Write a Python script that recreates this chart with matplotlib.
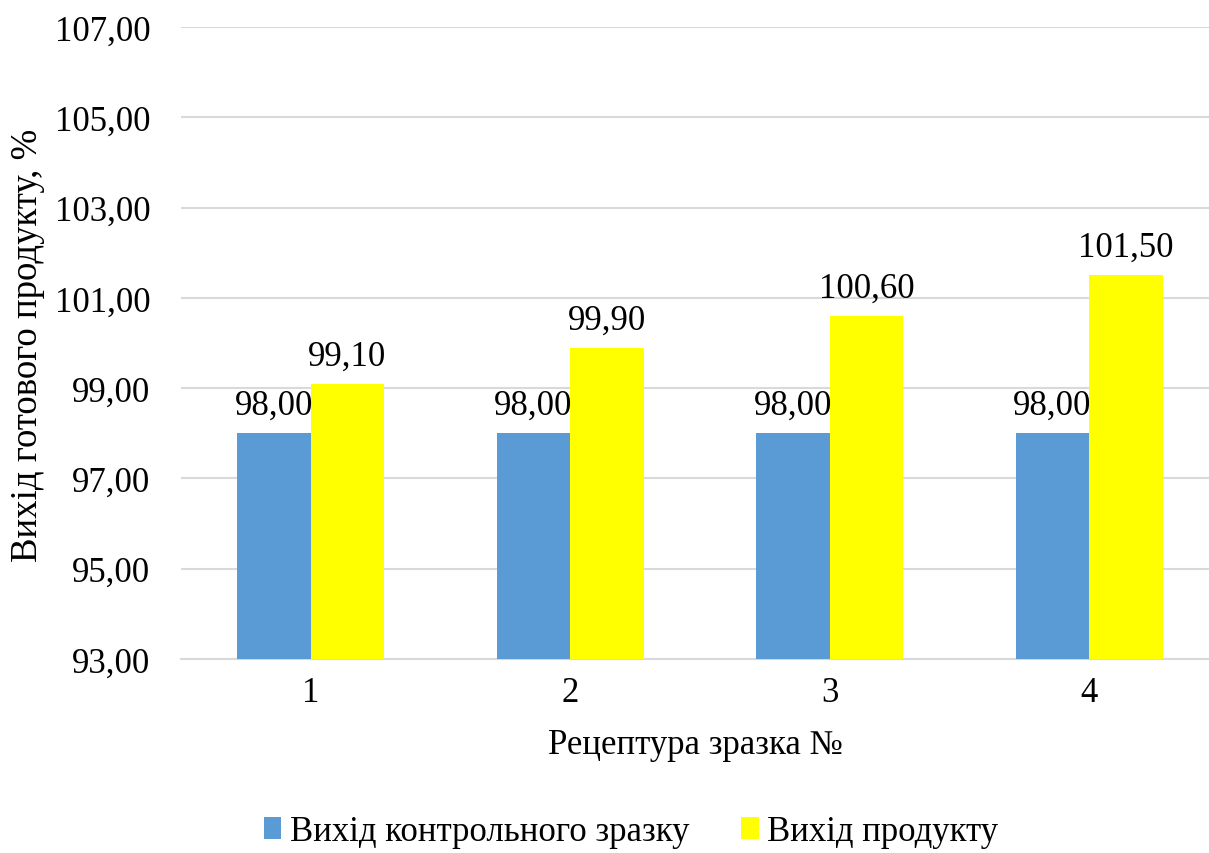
import numpy as np
import matplotlib.pyplot as plt

categories = ["1", "2", "3", "4"]
control = [98.00, 98.00, 98.00, 98.00]
product = [99.10, 99.90, 100.60, 101.50]
series_names = ["Вихід контрольного зразку", "Вихід продукту"]
y_ticks = [93, 95, 97, 99, 101, 103, 105, 107]

plt.rcParams["font.family"] = ["Liberation Serif", "DejaVu Serif"]

W, H = 1209, 854
fig = plt.figure(figsize=(W / 100, H / 100), dpi=100)
ax = fig.add_axes([181 / W, (H - 660) / H, (W - 181) / W, 632 / H])

x = np.arange(len(categories))
bw = 0.283
b1 = ax.bar(x - bw / 2, control, bw, color="#5B9BD5", label=series_names[0], zorder=3)
b2 = ax.bar(x + bw / 2, product, bw, color="#FFFF00", label=series_names[1], zorder=3)

for bars in (b1, b2):
    for r in bars:
        ax.annotate(f"{r.get_height():.2f}".replace(".", ","),
                    (r.get_x() + r.get_width() / 2, r.get_height()),
                    xytext=(0, 8), textcoords="offset points",
                    ha="center", va="bottom", fontsize=25)

ax.set_ylim(93, 107)
ax.set_xlim(-0.5, 3.5 - 10 / 259.5)
ax.set_yticks(y_ticks)
ax.set_yticklabels([f"{v:.2f}".replace(".", ",") for v in y_ticks], fontsize=25)
ax.set_xticks(x)
ax.set_xticklabels(categories, fontsize=25)
ax.tick_params(length=0, pad=12)
ax.tick_params(axis="y", pad=22)
ax.grid(axis="y", color="#d9d9d9", lw=1.5, zorder=0)
for s in ("top", "right", "left"):
    ax.spines[s].set_visible(False)
ax.spines["bottom"].set_color("#d9d9d9")
ax.spines["bottom"].set_linewidth(1.5)

ax.set_xlabel("Рецептура зразка №", fontsize=25, labelpad=14)
fig.text(28 / W, 1 - 345 / H, "Вихід готового продукту, %", rotation=90,
         ha="center", va="center", fontsize=26.5)

fig.legend(loc="center", bbox_to_anchor=(0.522, 1 - 833 / H), ncol=2,
           frameon=False, fontsize=25, handlelength=0.5, handleheight=0.6,
           handletextpad=0.25, columnspacing=1.5)

fig.savefig("out.png", dpi=100)
